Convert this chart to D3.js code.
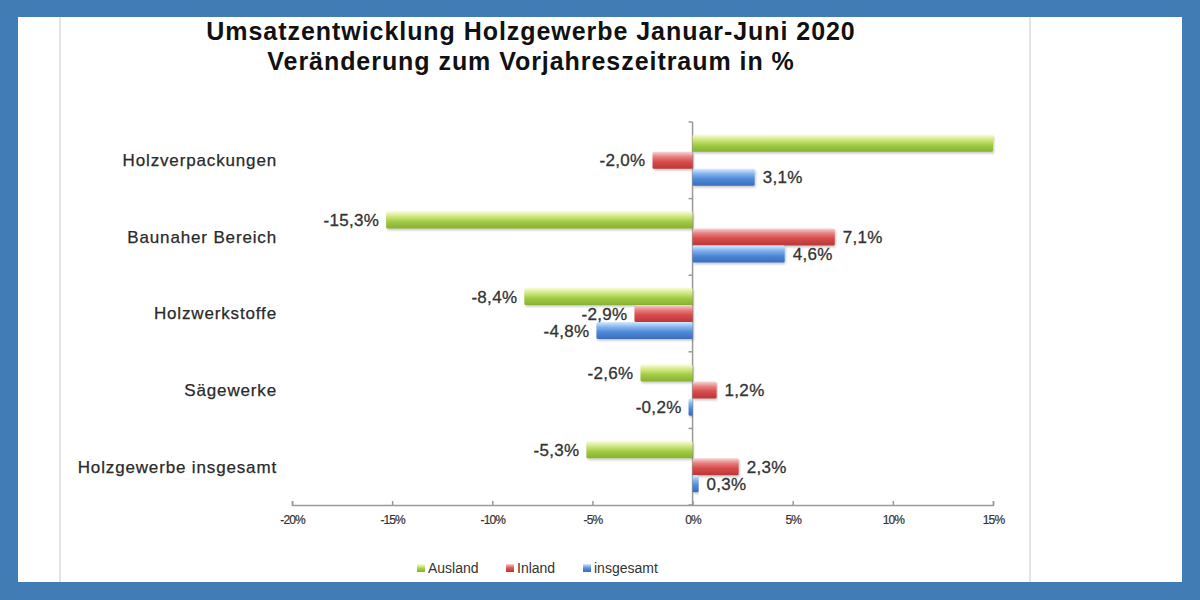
<!DOCTYPE html>
<html>
<head>
<meta charset="utf-8">
<script src="https://cdn.jsdelivr.net/npm/d3@7"></script>
<style>
    html, body { margin: 0; padding: 0; background: #417db4; }
    svg { display: block; font-family: "Liberation Sans", Arial, sans-serif; }
</style>
</head>
<body>
<svg id="chart" width="1200" height="600"></svg>
<script>
// Werte (Holzverpackungen/Ausland ragt über 15 % hinaus, geschätzt)
var categories = ['Holzverpackungen', 'Baunaher Bereich', 'Holzwerkstoffe', 'Sägewerke', 'Holzgewerbe insgesamt'];
var seriesNames = ['Ausland', 'Inland', 'insgesamt'];
var ausland = [18.0, -15.3, -8.4, -2.6, -5.3];
var inland = [-2.0, 7.1, -2.9, 1.2, 2.3];
var insgesamt = [3.1, 4.6, -4.8, -0.2, 0.3];
var xTicks = [-20, -15, -10, -5, 0, 5, 10, 15];
var titleLines = ['Umsatzentwicklung Holzgewerbe Januar-Juni 2020', 'Veränderung zum Vorjahreszeitraum in %'];

var seriesValues = [ausland, inland, insgesamt];
var colors = {
    Ausland:   ['#fafcd6', '#cfe780', '#a2cc42', '#86b032'],
    Inland:    ['#f9d6d6', '#e67e7e', '#d84a4a', '#b83838'],
    insgesamt: ['#d8eafd', '#82b3ee', '#4f89d8', '#386dbb']
};

var de = d3.formatLocale({decimal: ',', thousands: '.', grouping: [3], currency: ['', ' €'], minus: '-'});
var fmt = de.format('.1f');

var svg = d3.select('#chart');
var defs = svg.append('defs');

seriesNames.forEach(function (name, i) {
    var g = defs.append('linearGradient')
        .attr('id', 'grad' + i)
        .attr('x1', 0).attr('y1', 0).attr('x2', 0).attr('y2', 1);
    var c = colors[name];
    g.append('stop').attr('offset', '0%').attr('stop-color', c[0]);
    g.append('stop').attr('offset', '30%').attr('stop-color', c[1]);
    g.append('stop').attr('offset', '60%').attr('stop-color', c[2]);
    g.append('stop').attr('offset', '100%').attr('stop-color', c[3]);
});

var shadow = defs.append('filter').attr('id', 'shadow')
    .attr('x', '-5%').attr('y', '-20%').attr('width', '110%').attr('height', '160%');
shadow.append('feDropShadow')
    .attr('dx', 1).attr('dy', 1.5).attr('stdDeviation', 1)
    .attr('flood-color', '#000').attr('flood-opacity', 0.25);

// Seite
svg.append('rect')
    .attr('x', 18).attr('y', 17).attr('width', 1164).attr('height', 565)
    .attr('fill', '#ffffff');
[60, 1030].forEach(function (px) {
    svg.append('line')
        .attr('x1', px).attr('x2', px).attr('y1', 17).attr('y2', 582)
        .attr('stroke', '#e4e4e4').attr('stroke-width', 2);
});

// Titel
svg.append('g').selectAll('text')
    .data(titleLines)
    .join('text')
    .attr('x', 531)
    .attr('y', function (d, i) { return 40 + i * 30; })
    .attr('text-anchor', 'middle')
    .attr('font-size', 25)
    .attr('font-weight', 'bold')
    .attr('letter-spacing', 0.95)
    .attr('fill', '#111')
    .text(function (d) { return d; });

// Skalen
var x = d3.scaleLinear().domain([-20, 15]).range([292, 993]).clamp(true);
var y = d3.scaleBand().domain(categories).range([122, 505]).padding(0);
var ys = d3.scaleBand().domain(seriesNames).range([0, y.bandwidth()]).paddingOuter(0.75).paddingInner(0);

// x-Achse
var xAxis = svg.append('g')
    .attr('transform', 'translate(0,505)')
    .call(d3.axisBottom(x).tickValues(xTicks).tickSizeInner(-4).tickSizeOuter(-4).tickPadding(10)
        .tickFormat(function (d) { return d + '%'; }));
xAxis.select('.domain').attr('stroke', '#9a9a9a').attr('stroke-width', 1.5);
xAxis.selectAll('.tick line').attr('stroke', '#9a9a9a').attr('stroke-width', 1.5);
xAxis.selectAll('.tick text')
    .attr('font-size', 12).attr('letter-spacing', -0.9).attr('fill', '#333')
    .attr('stroke', '#333').attr('stroke-width', 0.2);

// y-Achse an der Nulllinie
var yAxis = svg.append('g');
yAxis.append('line')
    .attr('x1', x(0)).attr('x2', x(0))
    .attr('y1', y.range()[0]).attr('y2', y.range()[1])
    .attr('stroke', '#9a9a9a').attr('stroke-width', 1.5);
yAxis.selectAll('.yt')
    .data(categories.map(function (c) { return y(c); }).concat([y.range()[1]]))
    .join('line')
    .attr('class', 'yt')
    .attr('x1', x(0) - 4).attr('x2', x(0))
    .attr('y1', function (d) { return d; }).attr('y2', function (d) { return d; })
    .attr('stroke', '#9a9a9a').attr('stroke-width', 1.5);

// Kategorien
svg.append('g').selectAll('text')
    .data(categories)
    .join('text')
    .attr('x', 277)
    .attr('y', function (d) { return y(d) + y.bandwidth() / 2; })
    .attr('dy', '0.35em')
    .attr('text-anchor', 'end')
    .attr('font-size', 17)
    .attr('letter-spacing', 0.85)
    .attr('fill', '#2a2a2a')
    .attr('stroke', '#2a2a2a').attr('stroke-width', 0.25)
    .text(function (d) { return d; });

// Balken
var rows = [];
categories.forEach(function (c, ci) {
    seriesNames.forEach(function (s, si) {
        rows.push({cat: c, series: s, si: si, value: seriesValues[si][ci]});
    });
});

var bars = svg.append('g');
bars.selectAll('rect')
    .data(rows)
    .join('rect')
    .attr('x', function (d) { return Math.min(x(0), x(d.value)); })
    .attr('y', function (d) { return y(d.cat) + ys(d.series); })
    .attr('width', function (d) { return Math.abs(x(d.value) - x(0)); })
    .attr('height', ys.bandwidth())
    .attr('rx', 1.5)
    .attr('fill', function (d) { return 'url(#grad' + d.si + ')'; })
    .attr('filter', 'url(#shadow)');

// Werte (ausserhalb der Skala ohne Beschriftung)
svg.append('g').selectAll('text')
    .data(rows.filter(function (d) { return d.value >= x.domain()[0] && d.value <= x.domain()[1]; }))
    .join('text')
    .attr('x', function (d) { return d.value < 0 ? x(d.value) - 7 : x(d.value) + 8; })
    .attr('y', function (d) { return y(d.cat) + ys(d.series) + ys.bandwidth() / 2; })
    .attr('dy', '0.36em')
    .attr('text-anchor', function (d) { return d.value < 0 ? 'end' : 'start'; })
    .attr('font-size', 17)
    .attr('letter-spacing', 0.3)
    .attr('fill', '#333')
    .attr('stroke', '#333').attr('stroke-width', 0.3)
    .text(function (d) { return fmt(d.value) + '%'; });

// Legende
var legendX = [417, 506, 583];
var legend = svg.append('g').selectAll('g')
    .data(seriesNames)
    .join('g')
    .attr('transform', function (d, i) { return 'translate(' + legendX[i] + ',564)'; });
legend.append('rect')
    .attr('width', 8).attr('height', 8)
    .attr('fill', function (d, i) { return 'url(#grad' + i + ')'; });
legend.append('text')
    .attr('x', 11).attr('y', 9)
    .attr('font-size', 14)
    .attr('fill', '#333')
    .text(function (d) { return d; });
</script>
</body>
</html>
